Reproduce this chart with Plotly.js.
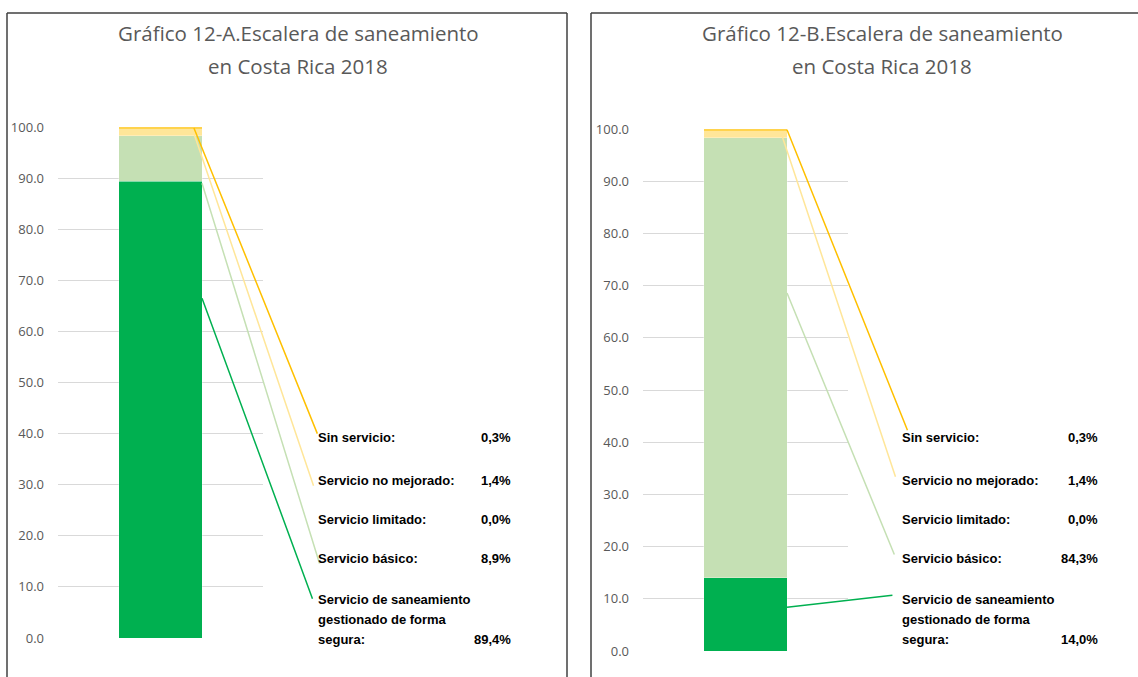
<!DOCTYPE html>
<html>
<head>
<meta charset="utf-8">
<script src="https://cdn.plot.ly/plotly-3.0.1.min.js"></script>
<style>html,body{margin:0;padding:0;background:#fff;}#chart{width:1138px;height:677px;}</style>
</head>
<body>
<div id="chart"></div>
<script>
// ---- DATA ----
const categories = ['Servicio de saneamiento gestionado de forma segura', 'Servicio básico', 'Servicio limitado', 'Servicio no mejorado', 'Sin servicio'];
const labelLines = [['Servicio de saneamiento', 'gestionado de forma', 'segura:'], ['Servicio básico:'], ['Servicio limitado:'], ['Servicio no mejorado:'], ['Sin servicio:']];
const valuesA = [89.4, 8.9, 0.0, 1.4, 0.3];
const valuesB = [14.0, 84.3, 0.0, 1.4, 0.3];
const titleA = ['Gráfico 12-A.Escalera de saneamiento', 'en Costa Rica 2018'];
const titleB = ['Gráfico 12-B.Escalera de saneamiento', 'en Costa Rica 2018'];
const tickVals = [0, 10, 20, 30, 40, 50, 60, 70, 80, 90, 100];

// ---- STYLE ----
const colors = ['#00B050', '#C5E0B4', '#A9D18E', '#FFE699', '#FFC000'];
const lineColors = ['#00B050', '#C5E0B4', '#A9D18E', '#FFE699', '#FFC000'];
const W = 1138, H = 677;
const BAR_W = 0.405;
const labelFont = {family: '"Liberation Sans Narrow", "Liberation Sans", Arial, sans-serif', size: 13, color: '#000000'};
const tickFont = {family: '"Open Sans", sans-serif', size: 13, color: '#595959'};
const titleFont = {family: '"Open Sans", sans-serif', size: 20.5, color: '#595959'};

// panel geometry (pixels)
const panels = [
  {values: valuesA, title: titleA, xa: 'x', ya: 'y', plotL: 58, plotR: 263, top: 127, bottom: 638,
   titleX: 298, labelX: 316, valueX: 513,
   leaders: [[0.2025, 66.5, 0.744, 7.4], [0.2025, 89.0, 0.778, 14.3], null, [0.159, 99.2, 0.749, 29.5], [0.163, 99.8, 0.768, 39.7]]},
  {values: valuesB, title: titleB, xa: 'x2', ya: 'y2', plotL: 643, plotR: 848, top: 129, bottom: 651,
   titleX: 882, labelX: 900, valueX: 1100,
   leaders: [[0.2025, 8.4, 0.724, 10.7], [0.2025, 68.6, 0.729, 18.2], null, [0.178, 98.7, 0.734, 33.1], [0.2025, 99.85, 0.793, 42.0]]}
];
const labelRowsY = [[599, 619, 639], [558], [519], [480], [438]];

const fmt = v => v.toFixed(1).replace('.', ',') + '%';
const px = x => x / W;
const py = y => 1 - y / H;

const traces = [];
const annotations = [];
const shapes = [];
const layout = {
  width: W, height: H,
  margin: {l: 0, r: 0, t: 0, b: 0},
  paper_bgcolor: '#ffffff', plot_bgcolor: '#ffffff',
  barmode: 'stack', showlegend: false,
  annotations: annotations, shapes: shapes
};

panels.forEach((p, pi) => {
  const xKey = pi === 0 ? 'xaxis' : 'xaxis2';
  const yKey = pi === 0 ? 'yaxis' : 'yaxis2';
  layout[xKey] = {
    domain: [px(p.plotL), px(p.plotR)], range: [-0.5, 0.5], anchor: p.ya,
    showgrid: false, zeroline: false, showticklabels: false, showline: false, ticks: '', fixedrange: true
  };
  layout[yKey] = {
    domain: [py(p.bottom), py(p.top)], range: [0, 100], anchor: p.xa,
    tickvals: tickVals, tickformat: '.1f', tickfont: tickFont, ticklabelstandoff: 13,
    showgrid: true, gridcolor: '#D9D9D9', gridwidth: 1, zeroline: false, showline: false, ticks: '', fixedrange: true
  };
  categories.forEach((c, i) => {
    traces.push({
      type: 'bar', x: [0], y: [p.values[i]], name: c, width: BAR_W,
      xaxis: p.xa, yaxis: p.ya,
      marker: {color: colors[i], line: {color: 'rgba(255,255,255,0.6)', width: 0.5}},
      hoverinfo: 'name+y'
    });
    const L = p.leaders[i];
    if (L) {
      annotations.push({
        xref: p.xa, yref: p.ya, x: L[0], y: L[1],
        axref: p.xa, ayref: p.ya, ax: L[2], ay: L[3],
        text: '', showarrow: true, arrowhead: 0, arrowwidth: 1.5, arrowcolor: lineColors[i],
        standoff: 0, startstandoff: 0
      });
    }
    const lines = labelLines[i];
    const ys = labelRowsY[i];
    lines.forEach((t, k) => {
      annotations.push({
        xref: 'paper', yref: 'paper', x: px(p.labelX), y: py(ys[k]),
        xanchor: 'left', yanchor: 'middle', text: '<b>' + t + '</b>', showarrow: false, font: labelFont
      });
    });
    annotations.push({
      xref: 'paper', yref: 'paper', x: px(p.valueX), y: py(ys[ys.length - 1]),
      xanchor: 'right', yanchor: 'middle', text: '<b>' + fmt(p.values[i]) + '</b>', showarrow: false, font: labelFont
    });
  });
  [33, 66].forEach((ty, k) => {
    annotations.push({
      xref: 'paper', yref: 'paper', x: px(p.titleX), y: py(ty),
      xanchor: 'center', yanchor: 'middle', text: p.title[k], showarrow: false, font: titleFont
    });
  });
});

// chart frames
const frameColor = '#404040';
shapes.push({type: 'line', xref: 'paper', yref: 'paper', x0: px(7), x1: px(7), y0: py(13), y1: 0, line: {color: frameColor, width: 1.5}});
shapes.push({type: 'line', xref: 'paper', yref: 'paper', x0: px(7), x1: px(567), y0: py(13), y1: py(13), line: {color: frameColor, width: 1.5}});
shapes.push({type: 'line', xref: 'paper', yref: 'paper', x0: px(567), x1: px(567), y0: py(13), y1: 0, line: {color: frameColor, width: 1.5}});
shapes.push({type: 'line', xref: 'paper', yref: 'paper', x0: px(591), x1: px(591), y0: py(13), y1: 0, line: {color: frameColor, width: 1.5}});
shapes.push({type: 'line', xref: 'paper', yref: 'paper', x0: px(591), x1: 1, y0: py(13), y1: py(13), line: {color: frameColor, width: 1.5}});

Plotly.newPlot('chart', traces, layout, {displayModeBar: false, staticPlot: true});
</script>
</body>
</html>
